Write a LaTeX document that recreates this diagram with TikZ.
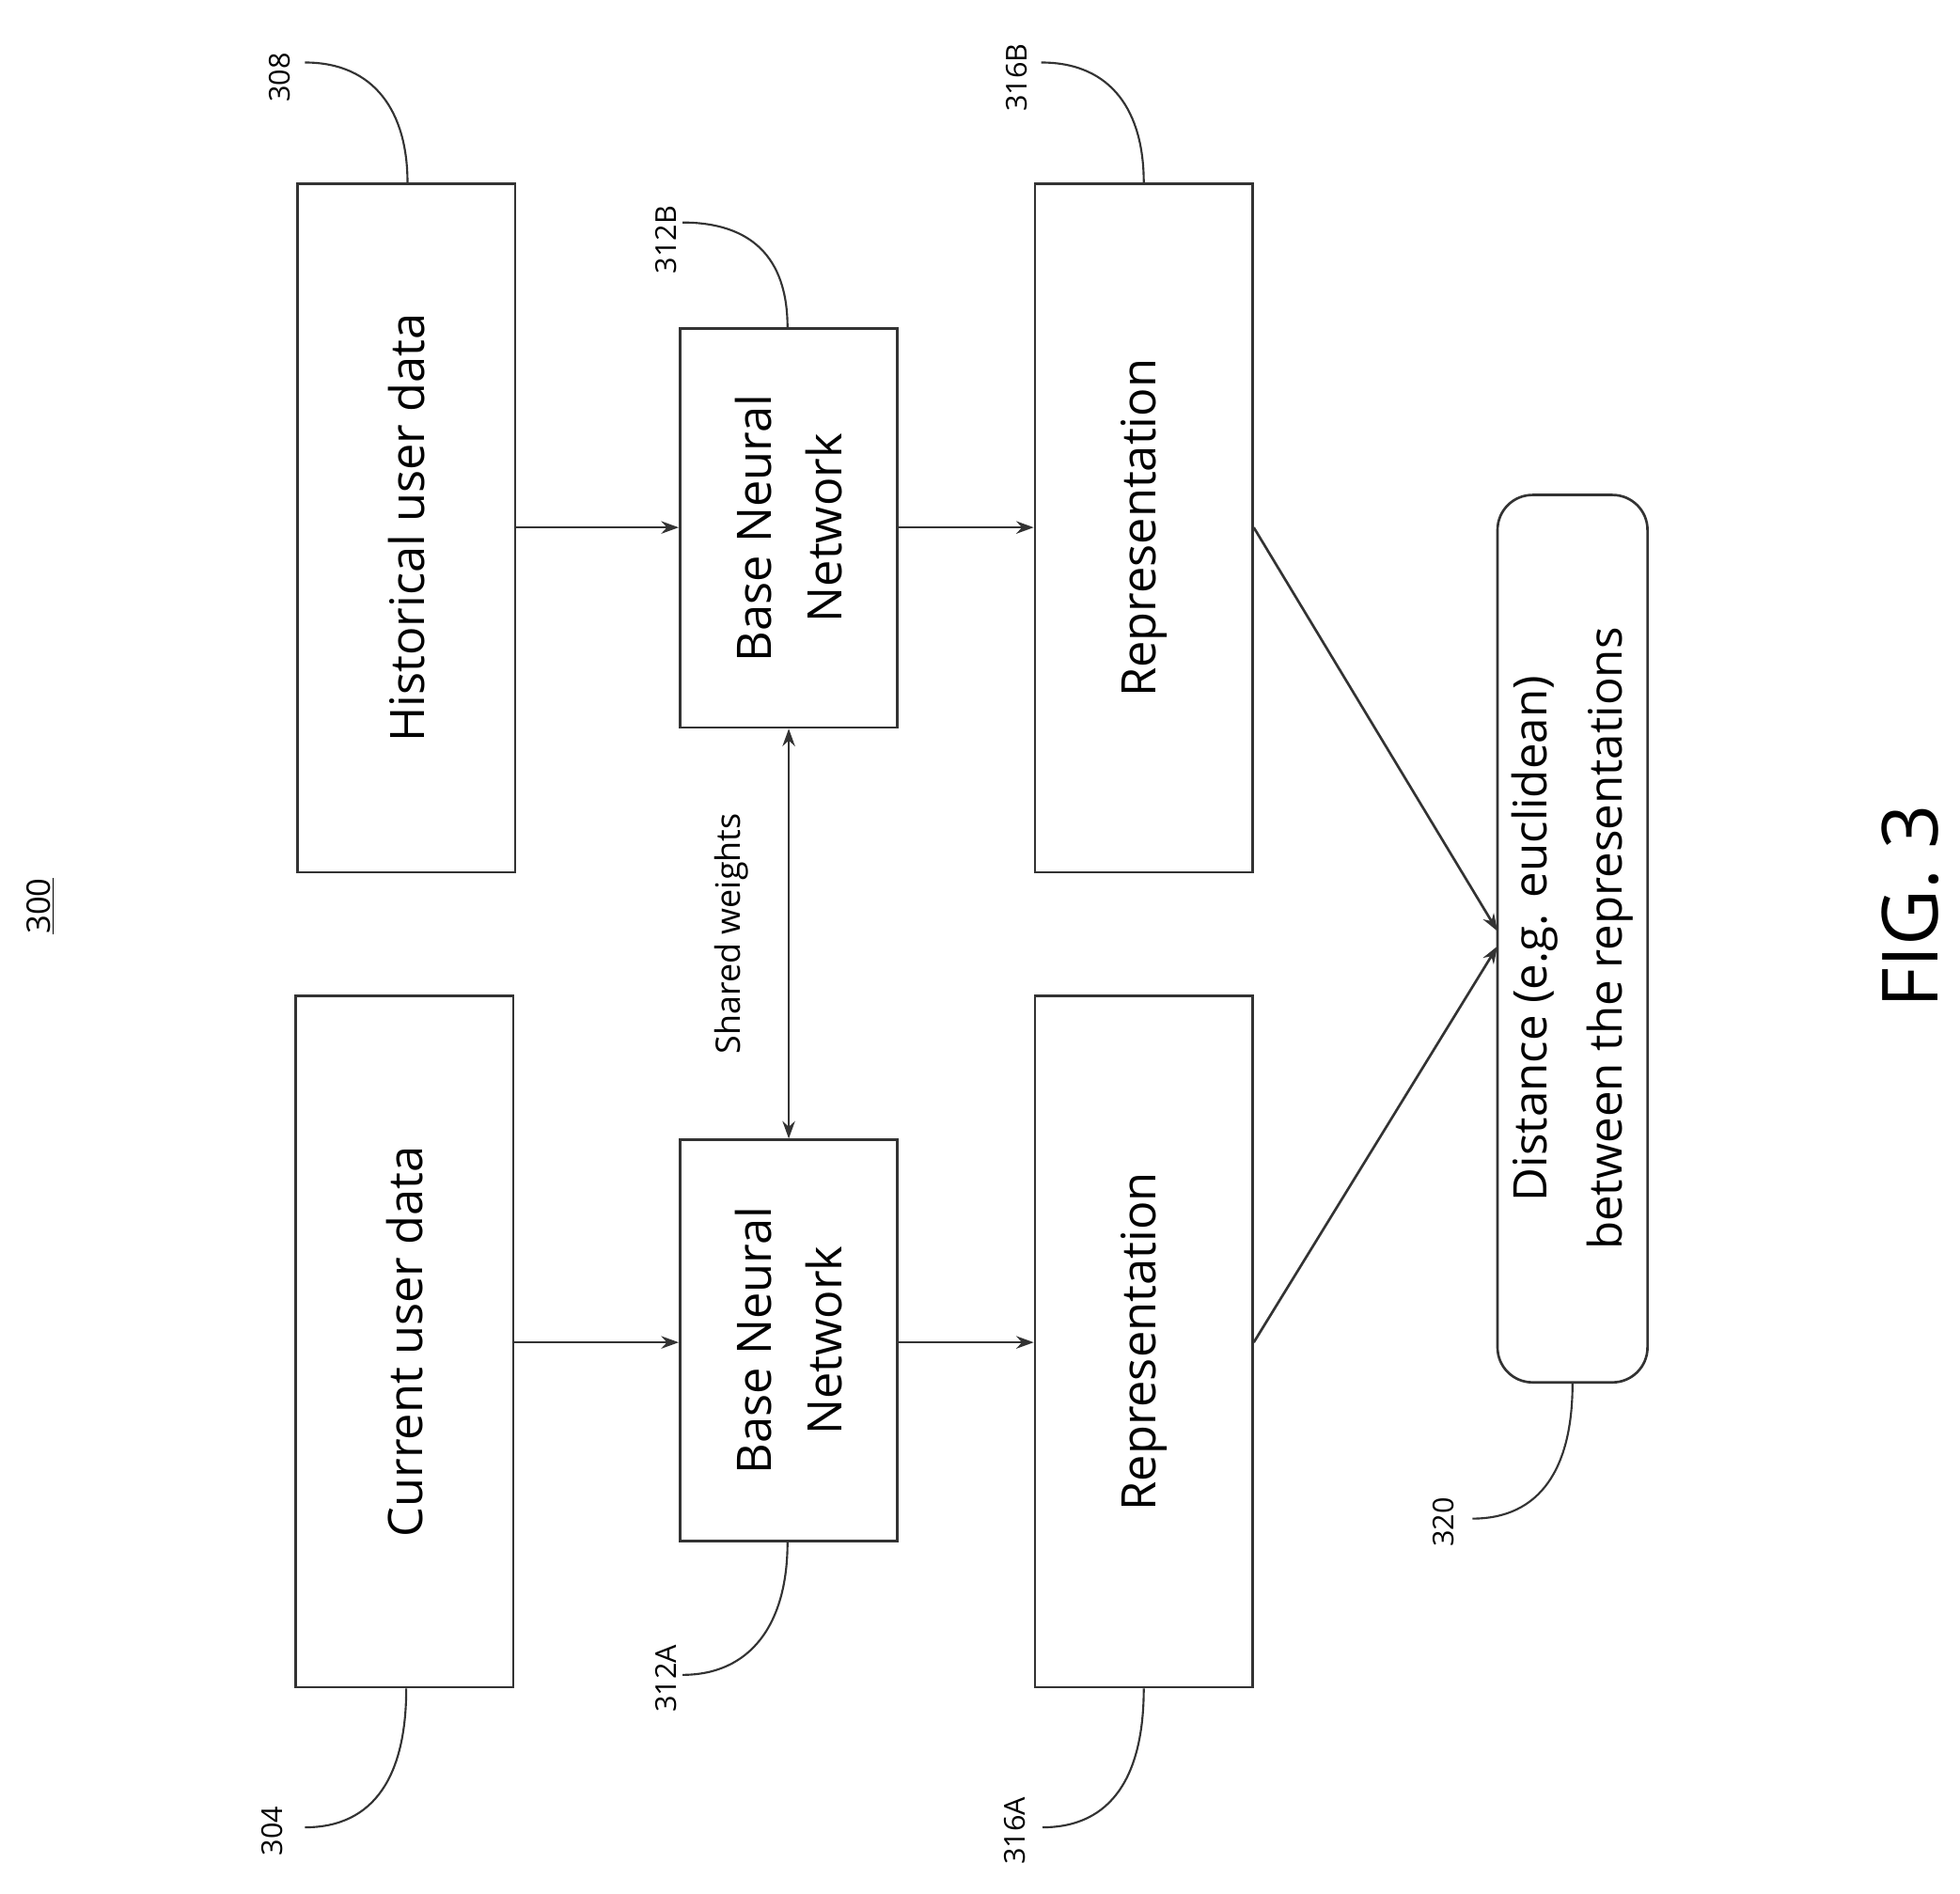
\documentclass[tikz,border=0pt]{standalone}
\usepackage{fontspec}
\setmainfont{Open Sans}
\usetikzlibrary{arrows.meta}
\begin{document}
\begin{tikzpicture}[x=1pt,y=-1pt,
  box/.style={draw=black!80,line width=2pt,inner sep=0pt},
  txt/.style={rotate=90,font=\fontsize{38}{56}\selectfont,align=center},
  lab/.style={rotate=90,font=\fontsize{23}{28}\selectfont},
  lead/.style={draw=black!80,line width=1.6pt},
  arr/.style={draw=black!80,line width=2pt,-{Stealth[length=14pt,width=10pt]}}]
\useasboundingbox (0,0) rectangle (1568,1515);
\node[box,minimum width=174pt,minimum height=553pt] (n304) at (323.5,1073.5) {};
\node[txt] at (n304) {Current user data};
\node[box,minimum width=174pt,minimum height=551pt] (n308) at (325,422.5) {};
\node[txt] at (n308) {Historical user data};
\node[box,minimum width=174pt,minimum height=321pt] (n312A) at (631,1072.5) {};
\node[txt] at (n312A) {Base Neural\\Network};
\node[box,minimum width=174pt,minimum height=319pt] (n312B) at (631,422.5) {};
\node[txt] at (n312B) {Base Neural\\Network};
\node[box,minimum width=174pt,minimum height=553pt] (n316A) at (915,1073.5) {};
\node[txt] at (n316A) {Representation};
\node[box,minimum width=174pt,minimum height=551pt] (n316B) at (915,422.5) {};
\node[txt] at (n316B) {Representation};
\node[box,rounded corners=28pt,minimum width=120pt,minimum height=710pt] (n320) at (1258,751) {};
\node[txt,font=\fontsize{37}{60}\selectfont] at (n320) {Distance (e.g. euclidean)\\between the representations};
\coordinate (t320a) at (1198,745);
\coordinate (t320b) at (1198,757);
\draw[arr] (n308.east|-0,422) -- (n312B.west|-0,422);
\draw[arr] (n312B.east|-0,422) -- (n316B.west|-0,422);
\draw[arr] (n304.east|-0,1074) -- (n312A.west|-0,1074);
\draw[arr] (n312A.east|-0,1074) -- (n316A.west|-0,1074);
\draw[arr] (n316B.east|-0,422) -- (t320a);
\draw[arr] (n316A.east|-0,1074) -- (t320b);
\draw[draw=black!80,line width=2pt,{Stealth[length=14pt,width=10pt]}-{Stealth[length=14pt,width=10pt]}] (n312B.south) -- (n312A.north);
\node[lab,font=\fontsize{27}{32}\selectfont] (sw) at (585,747) {Shared weights};
\node[lab,font=\fontsize{26}{30}\selectfont] (l300) at (32,725) {\underline{300}};
\node[rotate=90,font=\fontsize{62}{70}\selectfont] (fig) at (1528,725) {FIG. 3};
% reference labels
\node[lab] (l308) at (224,62) {308};
\draw[lead] (n308.north-|326,0) .. controls (326,90) and (300,50) .. (244,50);
\node[lab] (l304) at (218,1465) {304};
\draw[lead] (n304.south-|325,0) .. controls (325,1420) and (300,1462) .. (244,1462);
\node[lab] (l312B) at (533,192) {312B};
\draw[lead] (n312B.north-|630,0) .. controls (630,205) and (600,178) .. (546,178);
\node[lab] (l312A) at (533,1343) {312A};
\draw[lead] (n312A.south-|630,0) .. controls (630,1300) and (600,1340) .. (546,1340);
\node[lab] (l316B) at (813,62) {316B};
\draw[lead] (n316B.north-|915,0) .. controls (915,90) and (890,50) .. (833,50);
\node[lab] (l316A) at (812,1465) {316A};
\draw[lead] (n316A.south-|915,0) .. controls (915,1420) and (890,1462) .. (834,1462);
\node[lab] (l320) at (1155,1218) {320};
\draw[lead] (n320.south-|1258,0) .. controls (1258,1175) and (1232,1215) .. (1178,1215);
\end{tikzpicture}
\end{document}
